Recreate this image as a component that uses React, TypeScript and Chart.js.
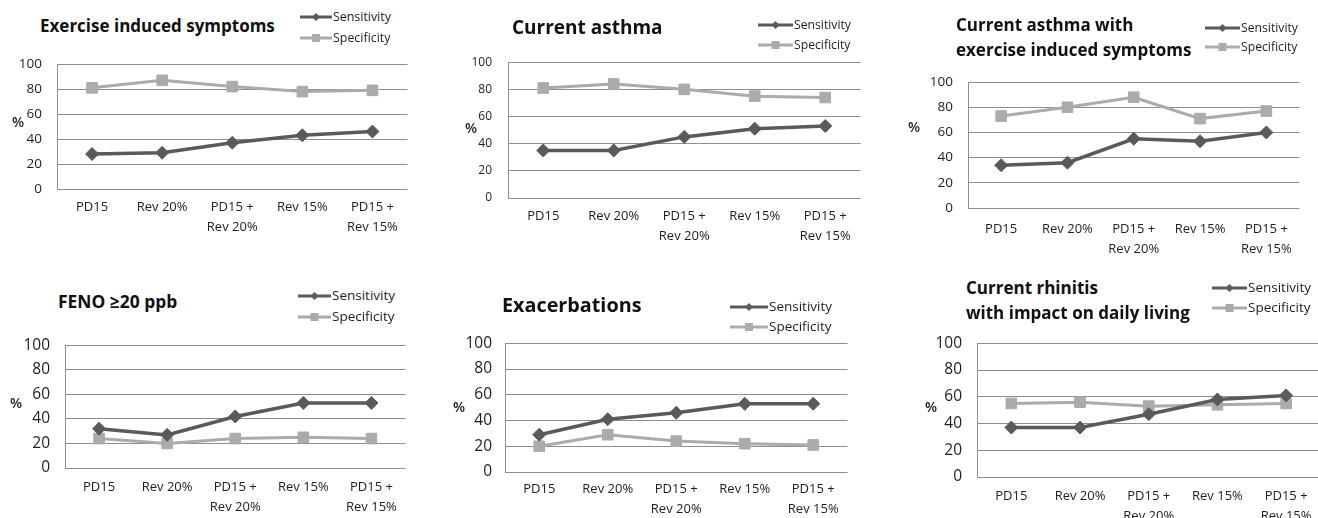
import React, { useEffect, useRef } from "react";
import { Chart, registerables } from "chart.js";
Chart.register(...registerables);

// ---------- data ----------
const categories: (string | string[])[] = [
  "PD15",
  "Rev 20%",
  ["PD15 +", "Rev 20%"],
  "Rev 15%",
  ["PD15 +", "Rev 15%"],
];
const yMin = 0;
const yMax = 100;
const yStep = 20;
const seriesNames = ["Sensitivity", "Specificity"];

const exerciseSens = [28, 29, 37, 43, 46];
const exerciseSpec = [81, 87, 82, 78, 79];
const asthmaSens = [35, 35, 45, 51, 53];
const asthmaSpec = [81, 84, 80, 75, 74];
const asthmaExSens = [34, 36, 55, 53, 60];
const asthmaExSpec = [73, 80, 88, 71, 77];
const fenoSens = [32, 27, 42, 53, 53];
const fenoSpec = [24, 20, 24, 25, 24];
const exacSens = [29, 41, 46, 53, 53];
const exacSpec = [20, 29, 24, 22, 21];
const rhinitisSens = [37, 37, 47, 58, 61];
const rhinitisSpec = [55, 56, 53, 54, 55];

const titles: string[][] = [
  ["Exercise induced symptoms"],
  ["Current asthma"],
  ["Current asthma with", "exercise induced symptoms"],
  ["FENO \u226520 ppb"],
  ["Exacerbations"],
  ["Current rhinitis", "with impact on daily living"],
];
const sensSeries = [exerciseSens, asthmaSens, asthmaExSens, fenoSens, exacSens, rhinitisSens];
const specSeries = [exerciseSpec, asthmaSpec, asthmaExSpec, fenoSpec, exacSpec, rhinitisSpec];

// ---------- layout / style ----------
const SENS_COLOR = "#5a5a5a";
const SPEC_COLOR = "#ababab";
const GRID_COLOR = "#8e8e8e";
const TEXT_COLOR = "#1e1e1e";
const FONT = "'Open Sans', 'DejaVu Sans', sans-serif";

const YW = 50; // y axis box width
const XH = 56; // x axis box height
const PT = 14; // top padding
const PR = 2; // right padding

type Layout = {
  plot: { l: number; t: number; r: number; b: number };
  yTickSize: number;
  yPad: number;
  xPad: number;
  titleX: number;
  titleY: number[];
  titleSize: number;
  pct: { x: number; y: number };
  legX: number;
  legY: number[];
  legLine: number;
  legSize: number;
};

const layouts: Layout[] = [
  { plot: { l: 57, t: 55, r: 414, b: 189 }, yTickSize: 13.5, yPad: 15, xPad: 9, titleX: 40, titleY: [25], titleSize: 17, pct: { x: 12, y: 122 }, legX: 300, legY: [17, 38], legLine: 32, legSize: 12.4 },
  { plot: { l: 508, t: 53, r: 867, b: 198 }, yTickSize: 12, yPad: 16, xPad: 9, titleX: 512, titleY: [27], titleSize: 19, pct: { x: 465, y: 128 }, legX: 758, legY: [25, 45], legLine: 35, legSize: 12.2 },
  { plot: { l: 968, t: 73, r: 1306, b: 208 }, yTickSize: 13.5, yPad: 15, xPad: 12, titleX: 956, titleY: [24, 49], titleSize: 17, pct: { x: 908, y: 127 }, legX: 1205, legY: [28, 47], legLine: 35, legSize: 12.2 },
  { plot: { l: 65, t: 335, r: 412, b: 468 }, yTickSize: 15.5, yPad: 15, xPad: 10, titleX: 58, titleY: [302], titleSize: 17.4, pct: { x: 10, y: 403 }, legX: 298, legY: [296, 317], legLine: 33, legSize: 13.5 },
  { plot: { l: 505, t: 335, r: 854, b: 472 }, yTickSize: 15.5, yPad: 13, xPad: 8, titleX: 502, titleY: [305], titleSize: 19.8, pct: { x: 453, y: 407 }, legX: 730, legY: [307, 327], legLine: 38, legSize: 13.5 },
  { plot: { l: 977, t: 333, r: 1327, b: 477 }, yTickSize: 15.5, yPad: 15, xPad: 10, titleX: 966, titleY: [287, 312], titleSize: 17, pct: { x: 925, y: 407 }, legX: 1212, legY: [288, 308], legLine: 35, legSize: 13.5 },
];

function PanelChart({ idx }: { idx: number }) {
  const ref = useRef<HTMLCanvasElement>(null);
  const L = layouts[idx];
  const w = L.plot.r - L.plot.l + YW + PR;
  const h = L.plot.b - L.plot.t + PT + XH;
  const left = L.plot.l - YW;
  const top = L.plot.t - PT;

  useEffect(() => {
    if (!ref.current) return;
    const chart = new Chart(ref.current, {
      type: "line",
      data: {
        labels: categories as any,
        datasets: [
          {
            label: seriesNames[0],
            data: sensSeries[idx],
            borderColor: SENS_COLOR,
            backgroundColor: SENS_COLOR,
            borderWidth: 3.5,
            pointStyle: "rectRot",
            pointRadius: 6.5,
            pointBorderWidth: 1,
            tension: 0,
          },
          {
            label: seriesNames[1],
            data: specSeries[idx],
            borderColor: SPEC_COLOR,
            backgroundColor: SPEC_COLOR,
            borderWidth: 3,
            pointStyle: "rect",
            pointRadius: 7.5,
            pointBorderWidth: 1,
            tension: 0,
          },
        ],
      },
      options: {
        animation: false,
        responsive: false,
        maintainAspectRatio: false,
        layout: { padding: { top: PT, right: PR, left: 0, bottom: 0 } },
        plugins: {
          legend: { display: false },
          title: { display: false },
          tooltip: { enabled: false },
        },
        scales: {
          x: {
            type: "category",
            offset: true,
            grid: { display: false, drawTicks: false },
            border: { display: false },
            ticks: {
              color: TEXT_COLOR,
              font: { family: FONT, size: 13, lineHeight: 1.5 },
              padding: L.xPad,
              maxRotation: 0,
              minRotation: 0,
              autoSkip: false,
            },
            afterFit: (s: any) => {
              s.height = XH;
            },
          },
          y: {
            min: yMin,
            max: yMax,
            ticks: {
              stepSize: yStep,
              color: TEXT_COLOR,
              font: { family: FONT, size: L.yTickSize },
              padding: L.yPad,
            },
            grid: { color: GRID_COLOR, lineWidth: 1, drawTicks: false },
            border: { display: true, color: GRID_COLOR, width: 1 },
            afterFit: (s: any) => {
              s.width = YW;
            },
          },
        },
      },
    });
    return () => chart.destroy();
  }, [idx]);

  return (
    <canvas
      ref={ref}
      width={w}
      height={h}
      style={{ position: "absolute", left, top, width: w, height: h }}
    />
  );
}

function LegendMarker({ kind, width }: { kind: "diamond" | "square"; width: number }) {
  const color = kind === "diamond" ? SENS_COLOR : SPEC_COLOR;
  const cx = width / 2;
  const cy = 7;
  return (
    <svg width={width} height={14} style={{ display: "block" }}>
      <line x1={0} y1={cy} x2={width} y2={cy} stroke={color} strokeWidth={3} />
      {kind === "diamond" ? (
        <polygon points={`${cx},${cy - 4} ${cx + 4},${cy} ${cx},${cy + 4} ${cx - 4},${cy}`} fill={color} />
      ) : (
        <rect x={cx - 4} y={cy - 4} width={8} height={8} fill={color} />
      )}
    </svg>
  );
}

function PanelDecor({ idx }: { idx: number }) {
  const L = layouts[idx];
  return (
    <>
      {titles[idx].map((t, i) => (
        <div
          key={"t" + i}
          style={{
            position: "absolute",
            left: L.titleX,
            top: L.titleY[i],
            transform: "translateY(-50%)",
            fontFamily: FONT,
            fontWeight: 700,
            fontSize: L.titleSize,
            lineHeight: 1,
            whiteSpace: "pre",
            color: "#111",
          }}
        >
          {t}
        </div>
      ))}
      <div
        style={{
          position: "absolute",
          left: L.pct.x,
          top: L.pct.y,
          transform: "translateY(-50%)",
          fontFamily: FONT,
          fontSize: 14,
          fontWeight: 600,
          lineHeight: 1,
          color: TEXT_COLOR,
        }}
      >
        %
      </div>
      {seriesNames.map((name, i) => (
        <div
          key={"l" + i}
          style={{
            position: "absolute",
            left: L.legX,
            top: L.legY[i],
            transform: "translateY(-50%)",
            display: "flex",
            alignItems: "center",
            fontFamily: FONT,
            fontSize: L.legSize,
            lineHeight: 1,
            color: TEXT_COLOR,
            whiteSpace: "pre",
          }}
        >
          <LegendMarker kind={i === 0 ? "diamond" : "square"} width={L.legLine} />
          <span style={{ marginLeft: 1 }}>{name}</span>
        </div>
      ))}
    </>
  );
}

export default function App() {
  return (
    <div
      style={{
        position: "absolute",
        left: 0,
        top: 0,
        width: 1318,
        height: 518,
        overflow: "hidden",
        background: "#ffffff",
      }}
    >
      {layouts.map((_, i) => (
        <PanelChart key={"c" + i} idx={i} />
      ))}
      {layouts.map((_, i) => (
        <PanelDecor key={"d" + i} idx={i} />
      ))}
    </div>
  );
}
